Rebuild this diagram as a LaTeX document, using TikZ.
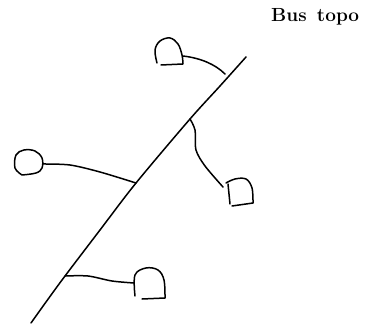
\documentclass[tikz,border=0pt]{standalone}
\usepackage{fontspec}
\tikzset{
  sketch/.style={line width=1.5pt, line cap=round, line join=round},
}
\begin{document}
\begin{tikzpicture}[x=1pt,y=-1pt]
  \useasboundingbox (0,0) rectangle (372,326);
  \node[anchor=west, inner sep=0pt, font=\fontsize{19pt}{19pt}\selectfont\bfseries] (title) at (271,17) {Bus\, topo};
  % the bus
  \coordinate (busS) at (31,323);
  \coordinate (tapD) at (65,276);
  \coordinate (tapB) at (136,183);
  \coordinate (tapC) at (190,119);
  \coordinate (busE) at (246,57);
  \draw[sketch] plot[smooth, tension=0.5] coordinates {(31,323) (46,302) (65,276) (100,230) (136,183) (190,119) (220,86) (246,57)};
  % devices
  \coordinate (devA) at (183,56);
  \coordinate (endA) at (225,74);
  \draw[sketch] plot[smooth, tension=0.6] coordinates {(157,63) (155,50) (160,41) (170,38) (178,44) (182,55) (183,64)} -- (161,65);
  \draw[sketch] (devA) .. controls (200,58) and (215,64) .. (endA);
  \coordinate (devB) at (43,164);
  \draw[sketch] plot[smooth, tension=0.6] coordinates {(22,175) (15,168) (16,155) (24,150) (35,151) (42,158) (42,168) (36,173) (22,175)};
  \draw[sketch] plot[smooth, tension=0.5] coordinates {(43,164) (70,165) (100,172) (136,183)};
  \coordinate (devC) at (223,187);
  \draw[sketch] plot[smooth, tension=0.6] coordinates {(226,183) (235,179) (246,179) (252,188) (253,203)} -- (232,206);
  \draw[sketch] (228,184) -- (230,204);
  \draw[sketch] plot[smooth, tension=0.5] coordinates {(190,119) (195,130) (196,150) (205,166) (223,187)};
  \coordinate (devD) at (134,283);
  \draw[sketch] plot[smooth, tension=0.6] coordinates {(135,296) (135,275) (146,268) (158,270) (164,280) (165,298)} -- (142,299);
  \draw[sketch] plot[smooth, tension=0.5] coordinates {(65,276) (88,276) (112,281) (134,283)};
\end{tikzpicture}
\end{document}
